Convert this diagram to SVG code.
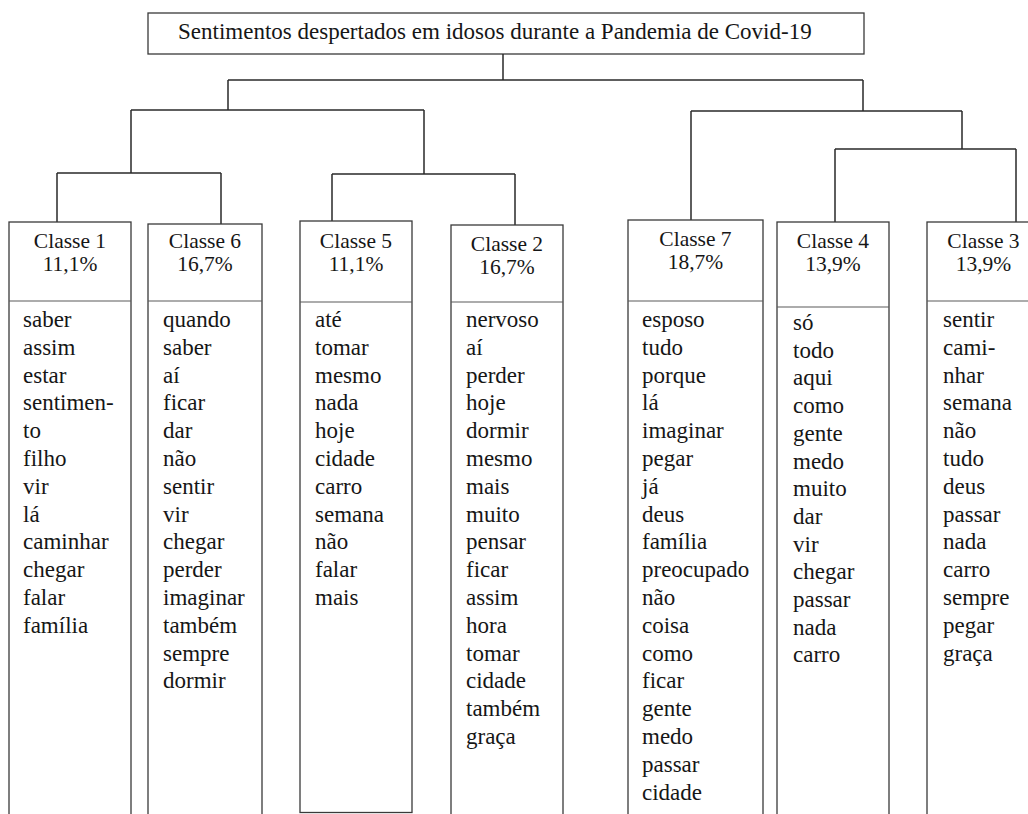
<svg xmlns="http://www.w3.org/2000/svg" width="1028" height="814" viewBox="0 0 1028 814" font-family="'Liberation Serif', Tinos, 'Times New Roman', 'DejaVu Serif', serif">
<style>
text{font-family:'Liberation Serif',Tinos,'Times New Roman','DejaVu Serif',serif;fill:#161616}
.t{font-size:23px}
.h{font-size:21.5px;text-anchor:middle}
.w{font-size:23px}
.box{fill:#fff;stroke:#3a3a3a;stroke-width:1.3}
.sep{stroke:#5a5a5a;stroke-width:1.2}
.con{fill:none;stroke:#2a2a2a;stroke-width:1.5}
</style>
<rect width="1028" height="814" fill="#fff"/>
<g id="title">
<rect class="box" x="148" y="13" width="716" height="41"/>
<text class="t" x="178" y="39">Sentimentos despertados em idosos durante a Pandemia de Covid-19</text>
</g>
<g id="connectors" class="con">
<path d="M503,54V80M228,80H863M228,80V110M131,110H424M131,110V173M57,173H221M57,173V222M221,173V224M424,110V174M332,174H515M332,174V221M515,174V225"/>
<path d="M863,80V111M691,111H962M691,111V220M962,111V149M835,149H1016M835,149V222M1016,149V222"/>
</g>
<g id="classe1">
<rect class="box" x="9" y="222" width="122" height="600"/>
<line class="sep" x1="9" y1="301" x2="131" y2="301"/>
<text class="h" x="70" y="248">Classe 1</text>
<text class="h" x="70" y="271">11,1%</text>
<text class="w" x="23" y="327">saber<tspan x="23" dy="27.8">assim</tspan><tspan x="23" dy="27.8">estar</tspan><tspan x="23" dy="27.8">sentimen-</tspan><tspan x="23" dy="27.8">to</tspan><tspan x="23" dy="27.8">filho</tspan><tspan x="23" dy="27.8">vir</tspan><tspan x="23" dy="27.8">lá</tspan><tspan x="23" dy="27.8">caminhar</tspan><tspan x="23" dy="27.8">chegar</tspan><tspan x="23" dy="27.8">falar</tspan><tspan x="23" dy="27.8">família</tspan></text>
</g>
<g id="classe6">
<rect class="box" x="148" y="224" width="114" height="600"/>
<line class="sep" x1="148" y1="301" x2="262" y2="301"/>
<text class="h" x="205" y="248">Classe 6</text>
<text class="h" x="205" y="271">16,7%</text>
<text class="w" x="163" y="327">quando<tspan x="163" dy="27.8">saber</tspan><tspan x="163" dy="27.8">aí</tspan><tspan x="163" dy="27.8">ficar</tspan><tspan x="163" dy="27.8">dar</tspan><tspan x="163" dy="27.8">não</tspan><tspan x="163" dy="27.8">sentir</tspan><tspan x="163" dy="27.8">vir</tspan><tspan x="163" dy="27.8">chegar</tspan><tspan x="163" dy="27.8">perder</tspan><tspan x="163" dy="27.8">imaginar</tspan><tspan x="163" dy="27.8">também</tspan><tspan x="163" dy="27.8">sempre</tspan><tspan x="163" dy="27.8">dormir</tspan></text>
</g>
<g id="classe5">
<rect class="box" x="300" y="221" width="112" height="591.5"/>
<line class="sep" x1="300" y1="302" x2="412" y2="302"/>
<text class="h" x="356" y="248">Classe 5</text>
<text class="h" x="356" y="271">11,1%</text>
<text class="w" x="315" y="327">até<tspan x="315" dy="27.8">tomar</tspan><tspan x="315" dy="27.8">mesmo</tspan><tspan x="315" dy="27.8">nada</tspan><tspan x="315" dy="27.8">hoje</tspan><tspan x="315" dy="27.8">cidade</tspan><tspan x="315" dy="27.8">carro</tspan><tspan x="315" dy="27.8">semana</tspan><tspan x="315" dy="27.8">não</tspan><tspan x="315" dy="27.8">falar</tspan><tspan x="315" dy="27.8">mais</tspan></text>
</g>
<g id="classe2">
<rect class="box" x="451" y="225" width="112" height="600"/>
<line class="sep" x1="451" y1="302" x2="563" y2="302"/>
<text class="h" x="507" y="251">Classe 2</text>
<text class="h" x="507" y="274">16,7%</text>
<text class="w" x="466" y="327">nervoso<tspan x="466" dy="27.8">aí</tspan><tspan x="466" dy="27.8">perder</tspan><tspan x="466" dy="27.8">hoje</tspan><tspan x="466" dy="27.8">dormir</tspan><tspan x="466" dy="27.8">mesmo</tspan><tspan x="466" dy="27.8">mais</tspan><tspan x="466" dy="27.8">muito</tspan><tspan x="466" dy="27.8">pensar</tspan><tspan x="466" dy="27.8">ficar</tspan><tspan x="466" dy="27.8">assim</tspan><tspan x="466" dy="27.8">hora</tspan><tspan x="466" dy="27.8">tomar</tspan><tspan x="466" dy="27.8">cidade</tspan><tspan x="466" dy="27.8">também</tspan><tspan x="466" dy="27.8">graça</tspan></text>
</g>
<g id="classe7">
<rect class="box" x="628" y="220" width="135" height="600"/>
<line class="sep" x1="628" y1="301" x2="763" y2="301"/>
<text class="h" x="695.5" y="246">Classe 7</text>
<text class="h" x="695.5" y="269">18,7%</text>
<text class="w" x="642" y="327">esposo<tspan x="642" dy="27.8">tudo</tspan><tspan x="642" dy="27.8">porque</tspan><tspan x="642" dy="27.8">lá</tspan><tspan x="642" dy="27.8">imaginar</tspan><tspan x="642" dy="27.8">pegar</tspan><tspan x="642" dy="27.8">já</tspan><tspan x="642" dy="27.8">deus</tspan><tspan x="642" dy="27.8">família</tspan><tspan x="642" dy="27.8">preocupado</tspan><tspan x="642" dy="27.8">não</tspan><tspan x="642" dy="27.8">coisa</tspan><tspan x="642" dy="27.8">como</tspan><tspan x="642" dy="27.8">ficar</tspan><tspan x="642" dy="27.8">gente</tspan><tspan x="642" dy="27.8">medo</tspan><tspan x="642" dy="27.8">passar</tspan><tspan x="642" dy="27.8">cidade</tspan></text>
</g>
<g id="classe4">
<rect class="box" x="777" y="222" width="112" height="600"/>
<line class="sep" x1="777" y1="307" x2="889" y2="307"/>
<text class="h" x="833" y="248">Classe 4</text>
<text class="h" x="833" y="271">13,9%</text>
<text class="w" x="793" y="330">só<tspan x="793" dy="27.7">todo</tspan><tspan x="793" dy="27.7">aqui</tspan><tspan x="793" dy="27.7">como</tspan><tspan x="793" dy="27.7">gente</tspan><tspan x="793" dy="27.7">medo</tspan><tspan x="793" dy="27.7">muito</tspan><tspan x="793" dy="27.7">dar</tspan><tspan x="793" dy="27.7">vir</tspan><tspan x="793" dy="27.7">chegar</tspan><tspan x="793" dy="27.7">passar</tspan><tspan x="793" dy="27.7">nada</tspan><tspan x="793" dy="27.7">carro</tspan></text>
</g>
<g id="classe3">
<rect class="box" x="927" y="222" width="113" height="600"/>
<line class="sep" x1="927" y1="301" x2="1040" y2="301"/>
<text class="h" x="983.5" y="248">Classe 3</text>
<text class="h" x="983.5" y="271">13,9%</text>
<text class="w" x="943" y="327">sentir<tspan x="943" dy="27.8">cami-</tspan><tspan x="943" dy="27.8">nhar</tspan><tspan x="943" dy="27.8">semana</tspan><tspan x="943" dy="27.8">não</tspan><tspan x="943" dy="27.8">tudo</tspan><tspan x="943" dy="27.8">deus</tspan><tspan x="943" dy="27.8">passar</tspan><tspan x="943" dy="27.8">nada</tspan><tspan x="943" dy="27.8">carro</tspan><tspan x="943" dy="27.8">sempre</tspan><tspan x="943" dy="27.8">pegar</tspan><tspan x="943" dy="27.8">graça</tspan></text>
</g>
</svg>
